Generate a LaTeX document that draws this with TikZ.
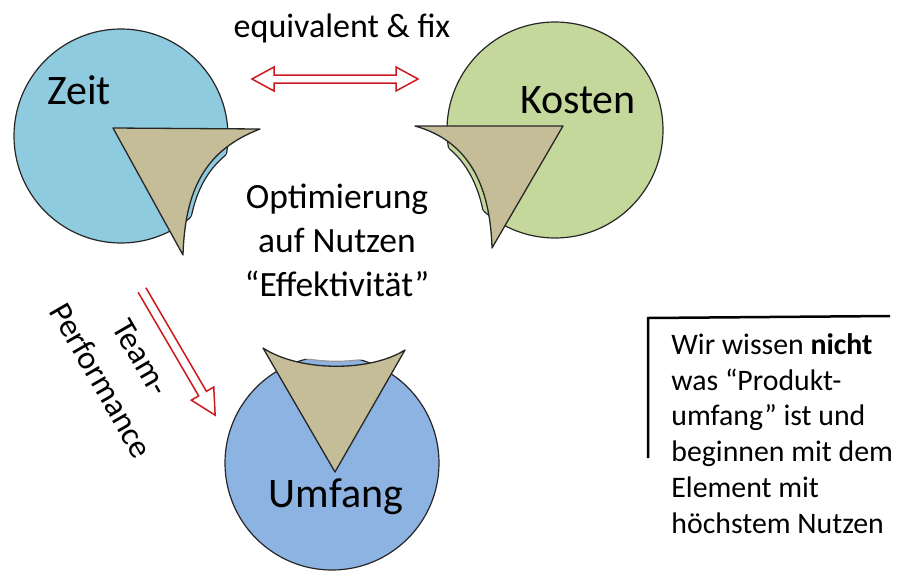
\documentclass[tikz,border=0pt]{standalone}
\usepackage{fontspec}
\setmainfont{Carlito}
\definecolor{zeitblue}{RGB}{143,203,223}
\definecolor{kostengreen}{RGB}{197,216,156}
\definecolor{umfangblue}{RGB}{141,179,226}
\definecolor{khaki}{RGB}{196,189,151}
\definecolor{arrowred}{RGB}{205,25,30}
\begin{document}
\begin{tikzpicture}[x=1pt, y=-1pt, thick,
    ring/.style={draw=black!85, line width=1.2pt},
    wedge/.style={fill=khaki, draw=black!85, line width=1.3pt, line join=round},
    hollow/.style={draw=arrowred, fill=white, line width=1.5pt, line join=miter},
    big/.style={inner sep=0pt, font=\fontsize{42}{48}\selectfont},
    say/.style={inner sep=0pt, font=\fontsize{35.5}{44}\selectfont}]
\useasboundingbox (0,0) rectangle (897,571);
% Zeit
    \fill[zeitblue, ring] (121,136) circle (107pt);
    \fill[white] (264,134) .. controls (209,154) and (189,191) .. (187,257) -- (300,257) -- (300,120) -- cycle;
    \begin{scope}
        \clip (121,136) circle (107pt);
        \draw[ring] (264,134) .. controls (209,154) and (189,191) .. (187,257);
    \end{scope}
    \draw[wedge] (113,128) -- (260,129) .. controls (205,150) and (185,190) .. (183,255) -- cycle;
% Kosten
    \fill[kostengreen, ring] (555,130) circle (108pt);
    \fill[white] (411,129) .. controls (461,143) and (486,183) .. (487,250) -- (380,250) -- (380,120) -- cycle;
    \begin{scope}
        \clip (555,130) circle (108pt);
        \draw[ring] (411,129) .. controls (461,143) and (486,183) .. (487,250);
    \end{scope}
    \draw[wedge] (563,126) -- (415,126) .. controls (465,140) and (490,180) .. (492,248) -- cycle;
% Umfang
    \fill[umfangblue, ring] (332,463) circle (107pt);
    \fill[white] (263,343) .. controls (300,367) and (370,367) .. (405,345) -- (420,330) -- (250,330) -- cycle;
    \begin{scope}
        \clip (332,463) circle (107pt);
        \draw[ring, black!40] (263,343) .. controls (300,367) and (370,367) .. (405,345);
    \end{scope}
    \draw[wedge] (263,348) .. controls (300,372) and (370,372) .. (405,350) -- (335,472) -- cycle;
% arrows
    \coordinate (fixL) at (252,79);
    \coordinate (teamT) at (142,290);
    \begin{scope}[shift={(fixL)}]
        \draw[hollow] (0,0) -- (22,-12) -- (22,-4) -- (144,-4) -- (144,-12) -- (166,0)
            -- (144,12) -- (144,4) -- (22,4) -- (22,12) -- cycle;
    \end{scope}
    \begin{scope}[shift={(teamT)}, rotate=-59.7]
        \draw[hollow] (0,-4.5) -- (120,-4.5) -- (120,-13) -- (145,0) -- (120,13) -- (120,4.5) -- (0,4.5);
    \end{scope}
% labels
    \node[big] (zeit) at (79,90) {Zeit};
    \node[big] (kosten) at (578,100) {Kosten};
    \node[big] (umfang) at (336,497) {Umfang};
    \node[say, font=\fontsize{34}{40}\selectfont] (equiv) at (342,28) {equivalent \& fix};
    \node[say, align=center] (optim) at (337,240) {Optimierung\\auf Nutzen\\“Effektivität”};
    \node[say, align=center, rotate=-60, font=\fontsize{33}{46}\selectfont] (team) at (121,369) {Team-\\Performance};
% note
    \draw[line width=2.5pt] (890,316) -- (648,318) -- (648,458);
    \node[inner sep=0pt, anchor=north west, align=left, font=\fontsize{29.8}{35.8}\selectfont] (note) at (671,333)
        {Wir wissen \textbf{nicht}\\was “Produkt-\\umfang” ist und\\beginnen mit dem\\Element mit\\höchstem Nutzen};
\end{tikzpicture}
\end{document}
